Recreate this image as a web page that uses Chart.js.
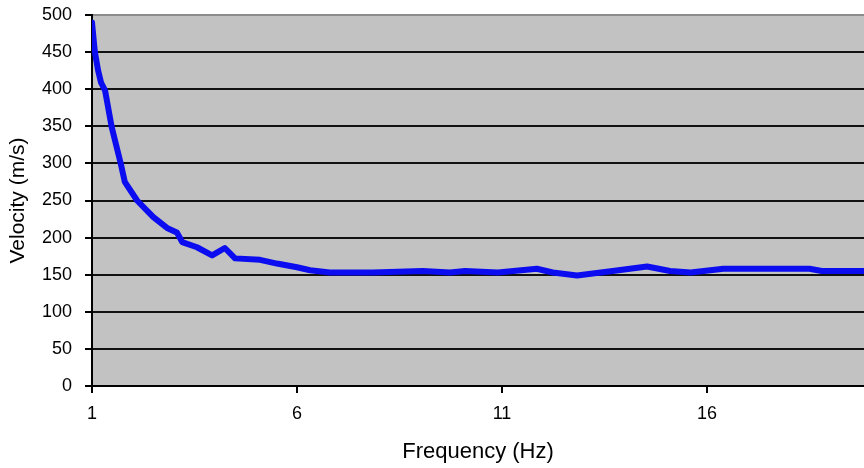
<!DOCTYPE html>
<html>
  <head>
    <style>
      html, body {
        margin: 0;
        background: #ffffff;
      }
      #chart-container {
        position: relative;
        width: 864px;
        height: 468px;
      }
    </style>
  </head>
  <body>
    <div id="chart-container">
      <canvas id="chart"></canvas>
    </div>

    <script src="https://cdn.jsdelivr.net/npm/chart.js"></script>
    <script>
      // values
      const frequency = [1.0, 1.07, 1.15, 1.22, 1.32, 1.48, 1.70, 1.80, 2.10, 2.49, 2.83, 3.07, 3.20, 3.56, 3.93, 4.24, 4.49, 5.10, 5.51, 6.0, 6.32, 6.80, 7.85, 9.07, 9.73, 10.1, 10.9, 11.85, 12.24, 12.83, 13.7, 14.54, 15.1, 15.6, 16.4, 18.5, 18.8, 19.83];
      const velocity = [490, 450, 425, 409, 398, 349, 300, 275, 250, 228, 213, 207, 194, 187, 176, 186, 172, 170, 165, 160, 156, 153, 153, 155, 153, 155, 153, 158, 153, 149, 155, 161, 155, 153, 158, 158, 155, 155];
      const xTicks = [1, 6, 11, 16];
      const xMin = 1;
      const xMax = 19.83;
      const yMin = 0;
      const yMax = 500;
      const yStep = 50;

      const fontFamily = "'Liberation Sans', Arial, sans-serif";

      // grey plot area, like the old spreadsheet chart
      const plotBackground = {
        id: 'plotBackground',
        beforeDraw(chart) {
          const { ctx, chartArea: a } = chart;
          ctx.save();
          ctx.fillStyle = '#c2c2c2';
          ctx.fillRect(a.left, a.top, a.right - a.left, a.bottom - a.top);
          ctx.restore();
        }
      };

      const canvas = document.getElementById('chart');

      new Chart(canvas, {
        type: 'line',
        data: {
          datasets: [{
            label: 'Velocity',
            data: frequency.map((f, i) => ({ x: f, y: velocity[i] })),
            borderColor: '#0c0cf0',
            borderWidth: 6,
            pointRadius: 0,
            fill: false,
            tension: 0,
            borderJoinStyle: 'round',
            borderCapStyle: 'round'
          }]
        },
        options: {
          responsive: true,
          maintainAspectRatio: false,
          animation: false,
          layout: {
            padding: { top: 15, right: 0, bottom: 0, left: 0 }
          },
          plugins: {
            legend: { display: false },
            tooltip: { enabled: false }
          },
          scales: {
            x: {
              type: 'linear',
              min: xMin,
              max: xMax,
              afterBuildTicks: function (axis) {
                axis.ticks = xTicks.map(v => ({ value: v }));
              },
              afterFit: function (scale) {
                scale.height = 82;
                scale.paddingLeft = 0;
                scale.paddingRight = 0;
              },
              grid: {
                drawOnChartArea: false,
                drawTicks: true,
                tickLength: 7,
                color: '#000',
                lineWidth: 2
              },
              border: { color: '#000', width: 2 },
              ticks: {
                color: '#000',
                padding: 10,
                maxRotation: 0,
                font: { family: fontFamily, size: 18 }
              },
              title: {
                display: true,
                text: 'Frequency (Hz)',
                color: '#000',
                font: { family: fontFamily, size: 22 },
                padding: { top: 0, bottom: 3 }
              }
            },
            y: {
              min: yMin,
              max: yMax,
              afterFit: function (scale) {
                scale.width = 92;
                scale.paddingTop = 0;
                scale.paddingBottom = 0;
              },
              grid: {
                color: ctx => ctx.tick && ctx.tick.value === yMax ? '#8c8c8c' : '#111',
                tickColor: '#000',
                lineWidth: 2,
                tickLength: 7
              },
              border: { color: '#000', width: 2 },
              ticks: {
                stepSize: yStep,
                color: '#000',
                padding: 13,
                font: { family: fontFamily, size: 18 }
              },
              title: {
                display: true,
                text: 'Velocity (m/s)',
                color: '#000',
                font: { family: fontFamily, size: 21 },
                padding: { top: 6, bottom: 0 }
              }
            }
          }
        },
        plugins: [plotBackground]
      });
    </script>
  </body>
</html>
